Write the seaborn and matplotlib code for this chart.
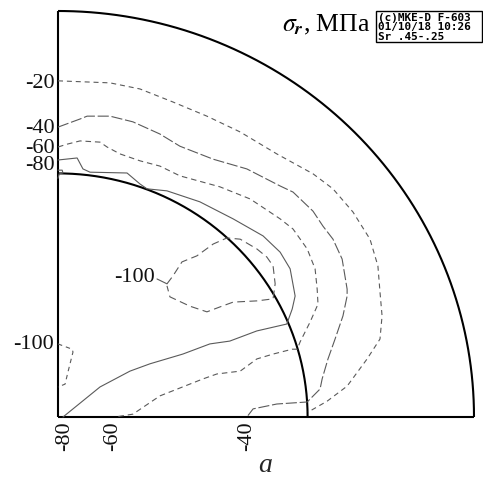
import numpy as np
import pandas as pd
import seaborn as sns
import matplotlib.pyplot as plt
from matplotlib.patches import Rectangle

# Radial stress isolines in a quarter of an annular section.
# Coordinates are given in percent of the outer radius; the inner bore is 60 %.
R_OUT = 100.0
R_IN = 60.0

# Isoline sigma_r = -20 MPa
c20_x = [0, 12.5, 19.7, 27.6, 35.8, 43.8, 52.6, 61.3, 66.1, 70.9, 75.0, 76.9,
         77.4, 77.9, 77.4, 74.3, 69.5, 64.7, 60.1]
c20_y = [82.8, 82.3, 80.8, 77.6, 74.1, 70.2, 64.8, 59.9, 56.2, 50.5, 43.8, 37.2,
         30.8, 24.9, 19.2, 14.3, 7.6, 3.9, 1.2]

# Isoline sigma_r = -40 MPa
c40_x = [0, 5.3, 7.0, 12.5, 18.0, 24.5, 29.3, 37.3, 45.4, 53.4, 56.5, 61.3, 63.7,
         66.1, 68.3, 69.5, 69.5, 68.5, 66.6, 64.9, 63.5, 63.0, 59.9, 52.6, 46.9, 45.4]
c40_y = [71.4, 73.4, 74.1, 74.1, 72.7, 69.7, 66.7, 63.5, 61.1, 56.9, 55.4, 50.7, 47.0,
         43.8, 38.9, 31.5, 29.8, 24.9, 19.2, 14.3, 9.4, 6.9, 3.7, 3.2, 2.0, 0]

# Isoline sigma_r = -60 MPa
c60_x = [0, 2.2, 5.3, 10.1, 11.8, 14.9, 19.7, 24.5, 29.3, 38.9, 46.2, 53.4, 56.5,
         59.9, 61.8, 62.3, 62.5, 60.6, 58.2, 57.5, 56.3, 51.7, 47.8, 43.8, 38.2,
         34.9, 24.5, 18.0, 13.7]
c60_y = [66.5, 67.2, 68.0, 67.7, 66.5, 64.8, 63.1, 61.8, 59.4, 56.7, 53.7, 48.8, 46.3,
         41.4, 36.5, 31.5, 27.8, 23.4, 18.5, 16.7, 16.7, 15.5, 14.3, 11.3, 10.6,
         9.4, 5.2, 0.7, 0]

# Isoline sigma_r = -80 MPa
c80_x = [0, 4.6, 6.0, 7.7, 16.6, 19.7, 21.4, 26.2, 34.1, 42.1, 49.3, 53.4, 55.8,
         56.7, 57.0, 56.3, 55.0, 47.8, 41.3, 36.5, 30.0, 22.1, 17.3, 10.1, 1.2]
c80_y = [63.3, 63.8, 61.1, 60.3, 60.1, 57.4, 56.2, 55.7, 53.0, 48.8, 44.6, 40.6, 36.5,
         31.5, 29.8, 26.6, 22.9, 21.2, 18.7, 18.0, 15.5, 13.1, 11.3, 7.4, 0]

# Closed isoline sigma_r = -100 MPa around the bore
c100a_x = [26.2, 27.6, 29.8, 33.4, 37.3, 40.6, 43.8, 47.8, 50.2, 51.7, 52.2, 51.7,
           47.8, 42.1, 38.9, 35.8, 31.7, 26.9, 26.2]
c100a_y = [32.8, 34.7, 38.2, 39.7, 42.6, 44.1, 43.8, 41.4, 39.4, 37.2, 32.8, 29.1,
           28.6, 28.3, 27.1, 25.9, 27.3, 29.6, 32.3]

# Isoline sigma_r = -100 MPa at the symmetry edge
c100b_x = [0, 3.4, 3.6, 2.4, 1.7, 0]
c100b_y = [18.0, 16.7, 16.0, 11.1, 8.1, 7.4]

# Small -100 MPa island at the top of the bore
c100c_x = [0, 1.0, 1.2, 0.3, 0]
c100c_y = [60.8, 60.8, 60.1, 59.9, 58.8]

# Edge labels: value and position along the edge
left_labels = ["-20", "-40", "-60", "-80", "-100"]
left_label_y = [82.3, 71.4, 66.5, 62.1, 18.0]
bottom_labels = ["-80", "-60", "-40"]
bottom_label_x = [1.7, 13.2, 45.4]

sns.set_theme(style="white")
plt.rcParams['font.family'] = ['Liberation Serif', 'DejaVu Serif']
plt.rcParams['mathtext.fontset'] = 'stix'

W, H = 483, 481
fig = plt.figure(figsize=(W / 100, H / 100), dpi=100)
fig.patch.set_facecolor('white')
ax = fig.add_axes([58 / W, 63 / H, 416 / W, 406 / H])
ax.set_xlim(0, 100)
ax.set_ylim(0, 100)
ax.axis('off')

# Section outline: outer and inner arcs plus the two symmetry edges
theta = np.linspace(0, np.pi / 2, 300)
edge_kw = dict(color='black', lw=1.5, clip_on=False, solid_capstyle='butt')
ax.plot(R_OUT * np.cos(theta), R_OUT * np.sin(theta), **edge_kw)
ax.plot(R_IN * np.cos(theta), R_IN * np.sin(theta), **edge_kw)
ax.plot([0, 0], [0, R_OUT], **edge_kw)
ax.plot([0, R_OUT], [0, 0], **edge_kw)

gray = '#5a5a5a'
isolines = [
    (c20_x, c20_y, (0, (4.5, 3.5))),
    (c40_x, c40_y, (0, (10, 2.5))),
    (c60_x, c60_y, (0, (5, 3.5))),
    (c80_x, c80_y, '-'),
    (c100a_x, c100a_y, (0, (7, 4))),
    (c100b_x, c100b_y, (0, (4, 3.5))),
    (c100c_x, c100c_y, '-'),
]
for xs, ys, ls in isolines:
    df = pd.DataFrame({'x': xs, 'y': ys})
    sns.lineplot(data=df, x='x', y='y', sort=False, estimator=None, ax=ax,
                 color=gray, linewidth=0.8, linestyle=ls, clip_on=False)

# Leader from the inner label to its isoline
sns.lineplot(x=[23.8, 26.2], y=[34.0, 32.8], sort=False, estimator=None, ax=ax,
             color=gray, linewidth=0.8)

lbl_kw = dict(fontsize=16, color='#111111', clip_on=False)
for txt, yv in zip(left_labels, left_label_y):
    ax.text(-0.9, yv, txt, ha='right', va='center', **lbl_kw)
for txt, xv in zip(bottom_labels, bottom_label_x):
    ax.text(xv, -0.9, txt, ha='center', va='top', rotation=90, **lbl_kw)
ax.text(23.2, 34.6, "-100", ha='right', va='center', **lbl_kw)

# Heading and stamp box
fig.text(370 / W, 1 - 31 / H, r"$\sigma_{\mathbfit{r}}$, МПа", ha='right',
         va='baseline', fontsize=18.5, color='black')
fig.add_artist(Rectangle((376 / W, 1 - 43 / H), 106 / W, 31 / H,
                         transform=fig.transFigure, fill=False,
                         edgecolor='black', lw=1.0))
stamp = ["(c)MKE-D F-603", "01/10/18 10:26", "Sr .45-.25"]
for i, line in enumerate(stamp):
    fig.text(378 / W, 1 - (17.8 + 9.6 * i) / H, line, ha='left', va='center',
             family='DejaVu Sans Mono', fontweight='bold', fontsize=7.9,
             color='black')

fig.text(265 / W, 1 - 466 / H, "a", ha='center', va='center',
         fontsize=20, style='italic')

fig.savefig('out.png', dpi=100, facecolor='white')
